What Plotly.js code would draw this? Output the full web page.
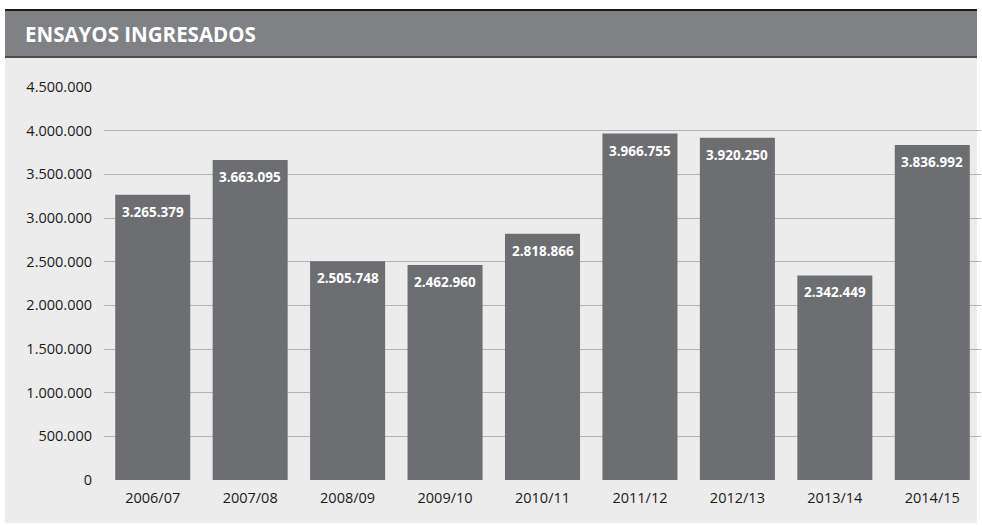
<!DOCTYPE html>
<html>
<head>
<meta charset="utf-8">
<script src="https://cdn.plot.ly/plotly-3.0.1.min.js"></script>
<style>html,body{margin:0;padding:0;background:#fff;}#chart{width:982px;height:525px;}</style>
</head>
<body>
<div id="chart"></div>
<script>
const categories = ["2006/07","2007/08","2008/09","2009/10","2010/11","2011/12","2012/13","2013/14","2014/15"];
const values = [3265379, 3663095, 2505748, 2462960, 2818866, 3966755, 3920250, 2342449, 3836992];
const yTicks = [0, 500000, 1000000, 1500000, 2000000, 2500000, 3000000, 3500000, 4000000, 4500000];
const chartTitle = "ENSAYOS INGRESADOS";

const W = 982, H = 525;
const FONT = "Open Sans, Noto Sans, sans-serif";
const fmt = v => String(v).replace(/\B(?=(\d{3})+(?!\d))/g, ".");

const trace = {
  type: "bar",
  x: categories,
  y: values,
  marker: {color: "#6d6e71", line: {width: 0}},
  hoverinfo: "skip"
};

const valueLabels = categories.map((c, i) => ({
  xref: "x", yref: "y", x: c, y: values[i],
  yshift: -17, xanchor: "center", yanchor: "middle",
  text: "<b>" + fmt(values[i]) + "</b>", showarrow: false,
  font: {family: FONT, size: 13.5, color: "#ffffff"}
}));

const layout = {
  width: W, height: H,
  margin: {l: 0, r: 0, t: 0, b: 0},
  paper_bgcolor: "#ffffff",
  plot_bgcolor: "rgba(0,0,0,0)",
  separators: ",.",
  showlegend: false,
  bargap: 0.23,
  font: {family: FONT, size: 14, color: "#1a1a1a"},
  xaxis: {
    domain: [104/W, 981/W],
    type: "category",
    showgrid: false, zeroline: false, showline: false,
    ticks: "", ticklabelstandoff: 7,
    tickfont: {size: 14.5, color: "#1a1a1a"}
  },
  yaxis: {
    domain: [1 - 480/H, 1 - 87/H],
    range: [0, 4500000],
    tickmode: "array",
    tickvals: yTicks,
    tickformat: ",.0f",
    showgrid: true, gridcolor: "#b3b3b3", gridwidth: 1,
    zeroline: false, showline: false,
    ticks: "", ticklabelstandoff: 11,
    tickfont: {size: 14.5, color: "#1a1a1a"}
  },
  shapes: [
    {type: "rect", xref: "paper", yref: "paper", layer: "below",
     x0: 5/W, x1: 977/W, y0: 1 - 523/H, y1: 1 - 57/H,
     fillcolor: "#ececec", line: {width: 0}},
    {type: "rect", xref: "paper", yref: "paper", layer: "below",
     x0: 5/W, x1: 977/W, y0: 1 - 57/H, y1: 1 - 10/H,
     fillcolor: "#808184", line: {width: 0}},
    {type: "line", xref: "paper", yref: "paper", layer: "below",
     x0: 5/W, x1: 977/W, y0: 1 - 10/H, y1: 1 - 10/H,
     line: {color: "#1a1a1a", width: 2}},
    {type: "line", xref: "paper", yref: "paper", layer: "below",
     x0: 5/W, x1: 977/W, y0: 1 - 57/H, y1: 1 - 57/H,
     line: {color: "#4d4d4f", width: 2}}
  ],
  annotations: [
    {xref: "paper", yref: "paper", x: 23/W, y: 1 - 34/H, xanchor: "left", yanchor: "middle",
     text: "<b>" + chartTitle + "</b>", showarrow: false,
     font: {family: FONT, size: 20.5, color: "#ffffff"}}
  ].concat(valueLabels)
};

Plotly.newPlot("chart", [trace], layout, {displayModeBar: false, staticPlot: true});
</script>
</body>
</html>
